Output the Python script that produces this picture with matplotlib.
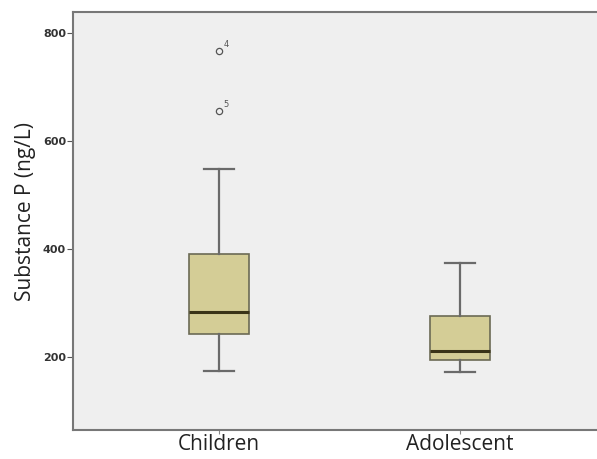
import matplotlib
matplotlib.use('Agg')
import matplotlib.pyplot as plt

groups = ['Children', 'Adolescent']
q1 = [243, 194]
medians = [283, 212]
q3 = [391, 276]
whisker_low = [174, 173]
whisker_high = [548, 374]
outliers = [[767, 655], []]
outlier_ids = [['4', '5'], []]

stats = []
for i in range(len(groups)):
    stats.append({'med': medians[i], 'q1': q1[i], 'q3': q3[i],
                  'whislo': whisker_low[i], 'whishi': whisker_high[i],
                  'fliers': outliers[i], 'label': groups[i]})

fig = plt.figure(figsize=(5.97, 4.59), dpi=100)
ax = fig.add_axes([0.1223, 0.0632, 0.8777, 0.9107])
ax.set_facecolor('#efefef')

positions = [1, 2]
ax.bxp(stats, positions=positions, widths=0.25, patch_artist=True,
       boxprops=dict(facecolor='#d4cd96', edgecolor='#6b6a55', linewidth=1.2),
       medianprops=dict(color='#3a3418', linewidth=2.2),
       whiskerprops=dict(color='#6a6a6a', linewidth=1.6),
       capprops=dict(color='#6a6a6a', linewidth=1.6),
       capwidths=0.125,
       flierprops=dict(marker='o', markersize=4.5, markerfacecolor='none',
                       markeredgecolor='#555555', markeredgewidth=0.9))

# case numbers next to outliers
for i, pos in enumerate(positions):
    for val, lab in zip(outliers[i], outlier_ids[i]):
        ax.annotate(lab, (pos, val), xytext=(3, 3), textcoords='offset points',
                    fontsize=6, color='#555555')

ax.set_xlim(0.394, 2.568)
ax.set_ylim(65, 839)
ax.set_yticks([200, 400, 600, 800])
ax.set_yticklabels(['200', '400', '600', '800'], fontsize=8, fontweight='bold',
                   color='#333333')
ax.set_xticks(positions)
ax.set_xticklabels(groups, fontsize=15, color='#222222', family='Open Sans')
ax.set_ylabel('Substance P (ng/L)', fontsize=15, color='#222222',
              family='Open Sans')
ax.yaxis.set_label_coords(-0.070, 0.5215)

ax.spines['right'].set_visible(False)
for s in ['left', 'bottom', 'top']:
    ax.spines[s].set_color('#777777')
    ax.spines[s].set_linewidth(1.5)
ax.tick_params(axis='y', length=4, width=0.8, color='#555555', pad=1)
ax.tick_params(axis='x', length=3, width=0.8, color='#888888', pad=0)

fig.savefig('out.png', dpi=100)
